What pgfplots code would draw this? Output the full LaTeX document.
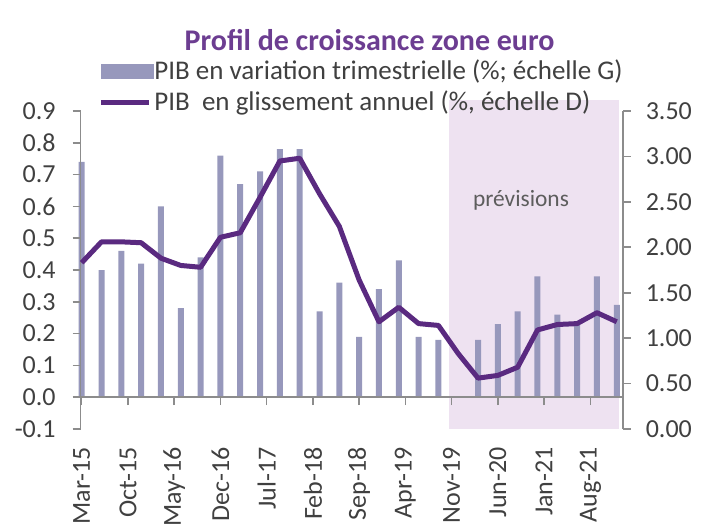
\documentclass[border=0pt]{standalone}
\usepackage{fontspec}
\setmainfont{Carlito}
\usepackage{pgfplots}
\pgfplotsset{compat=1.18}
\definecolor{barcol}{HTML}{9798BC}
\definecolor{linecol}{HTML}{5A2A80}
\definecolor{shadecol}{HTML}{EEE2F1}
\definecolor{titlecol}{HTML}{6C3D91}
\definecolor{axcol}{HTML}{8C8C8C}
\definecolor{labcol}{HTML}{404040}

\begin{document}
\begin{tikzpicture}
\path[use as bounding box] (-40.35pt,-51pt) rectangle (310.15pt,214.5pt);

% left axis: quarterly growth (bars)
\begin{axis}[
    scale only axis, width=271pt, height=159pt,
    xmin=-0.15, xmax=81.9, ymin=-0.1, ymax=0.9,
    axis x line=middle, axis y line=left,
    axis line style={draw=axcol, line width=0.8pt, -},
    axis on top, clip=false,
    hide obscured x ticks=false, hide obscured y ticks=false,
    tick align=outside, major tick length=4pt,
    tick style={draw=axcol, line width=0.8pt},
    xtick={0,7,14,21,28,35,42,49,56,63,70,77},
    xticklabels={Mar-15,Oct-15,May-16,Dec-16,Jul-17,Feb-18,Sep-18,Apr-19,Nov-19,Jun-20,Jan-21,Aug-21},
    xticklabel style={rotate=90, anchor=east, font=\fontsize{13}{13}\selectfont, text=labcol},
    xticklabel shift=17.5pt,
    ytick={-0.1,0,0.1,0.2,0.3,0.4,0.5,0.6,0.7,0.8,0.9},
    yticklabels={-0.1,0.0,0.1,0.2,0.3,0.4,0.5,0.6,0.7,0.8,0.9},
    yticklabel style={font=\fontsize{13}{13}\selectfont, text=labcol},
    yticklabel shift=5pt,
]
\addplot[draw=none, fill=shadecol] coordinates {(55.6,-0.1) (55.6,0.934) (81.4,0.934) (81.4,-0.1)} -- cycle;
\addplot[ybar, bar width=3pt, fill=barcol, draw=none] coordinates {
(0,0.74) (3,0.40) (6,0.46) (9,0.42) (12,0.60) (15,0.28) (18,0.44) (21,0.76)
(24,0.67) (27,0.71) (30,0.78) (33,0.78) (36,0.27) (39,0.36) (42,0.19) (45,0.34)
(48,0.43) (51,0.19) (54,0.18) (57,0.00) (60,0.18) (63,0.23) (66,0.27) (69,0.38)
(72,0.26) (75,0.23) (78,0.38) (81,0.29)};
\end{axis}

% right axis: annual growth (line)
\begin{axis}[
    scale only axis, width=271pt, height=159pt,
    xmin=-0.15, xmax=81.9, ymin=0, ymax=3.5,
    axis x line=none, axis y line*=right,
    axis line style={draw=axcol, line width=0.8pt, -},
    clip=false,
    tick align=outside, major tick length=4pt,
    tick style={draw=axcol, line width=0.8pt},
    ytick={0,0.5,1,1.5,2,2.5,3,3.5},
    yticklabels={0.00,0.50,1.00,1.50,2.00,2.50,3.00,3.50},
    yticklabel style={font=\fontsize{13}{13}\selectfont, text=labcol},
    yticklabel shift=4pt,
    legend style={at={(0.021,1.076)}, anchor=west, draw=none, fill=none,
        font=\fontsize{13.5}{14}\selectfont, text=labcol,
        nodes={inner sep=0.5pt}, row sep=3pt},
    legend cell align=left,
]
\addlegendimage{legend image code/.code={\fill[barcol] (0pt,-3.5pt) rectangle (26pt,3.5pt);}}
\addlegendentry{PIB en variation trimestrielle (\%; échelle G)}
\addplot[linecol, line width=2.5pt, line join=round, mark=none,
    legend image code/.code={\draw[linecol, line width=2.5pt] (0pt,0pt) -- (24pt,0pt);}] coordinates {
(0,1.83) (3,2.06) (6,2.06) (9,2.05) (12,1.88) (15,1.80) (18,1.78) (21,2.11)
(24,2.16) (27,2.55) (30,2.95) (33,2.98) (36,2.59) (39,2.23) (42,1.64) (45,1.18)
(48,1.34) (51,1.16) (54,1.14) (57,0.83) (60,0.56) (63,0.59) (66,0.68) (69,1.09)
(72,1.15) (75,1.16) (78,1.28) (81,1.18)};
\addlegendentry{PIB\ \ en glissement annuel (\%, échelle D)}
\node[font=\fontsize{11.7}{12}\selectfont, text=labcol!85] at (axis cs:66.5,2.52) {prévisions};
\node[font=\bfseries\fontsize{15}{15}\selectfont, text=titlecol] at (axis description cs:0.533,1.223) {Profil de croissance zone euro};
\end{axis}
\end{tikzpicture}
\end{document}
